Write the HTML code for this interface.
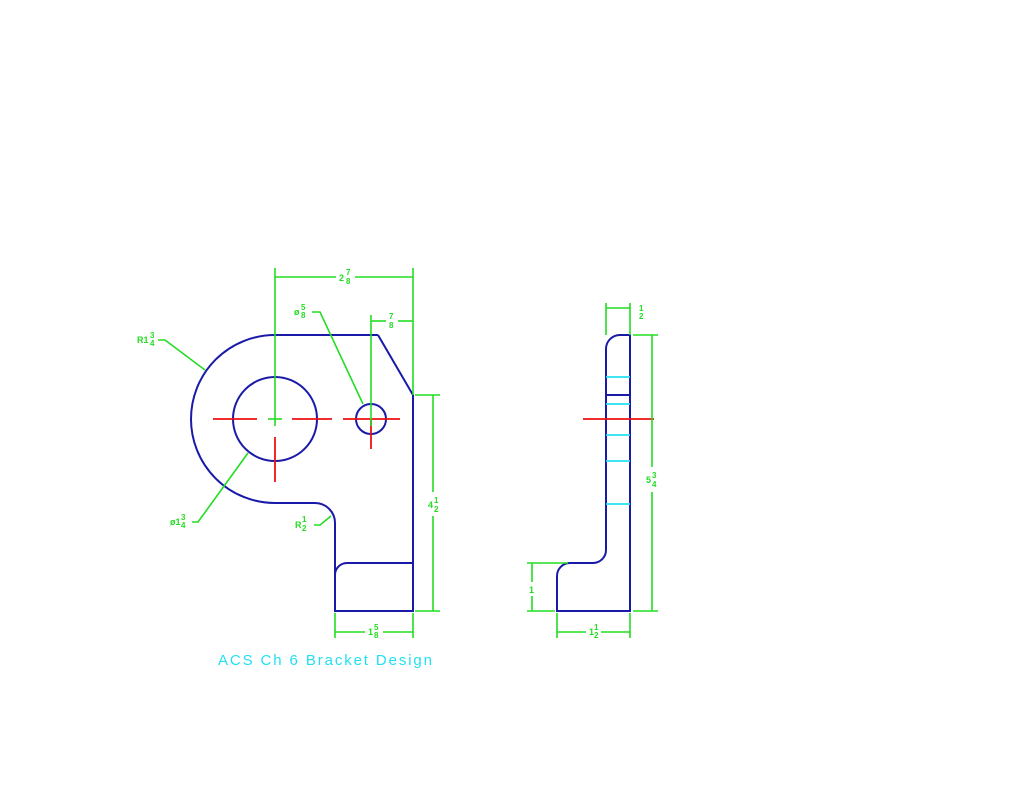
<!DOCTYPE html>
<html><head><meta charset="utf-8"><style>
html,body{margin:0;padding:0;background:#fff;}
svg{display:block}
text{font-family:"Liberation Sans",sans-serif;font-weight:bold;fill:#22dd22}
</style></head><body>
<svg width="1024" height="791" viewBox="0 0 1024 791" xmlns="http://www.w3.org/2000/svg">
<g fill="none" stroke="#1a1aa8" stroke-width="2">
<path d="M378 335 L275 335 A84 84 0 0 0 275 503 L315 503 A20 20 0 0 1 335 523 L335 611 L413 611 L413 395 L378 335"/>
<path d="M413 563 L347 563 A12 12 0 0 0 335 575"/>
<circle cx="275" cy="419" r="42"/>
<circle cx="371" cy="419" r="15"/>
<path d="M630 335 L620 335 A14 14 0 0 0 606 349 L606 550 A13 13 0 0 1 593 563 L570 563 A13 13 0 0 0 557 576 L557 611 L630 611 Z"/>
<line x1="606" y1="395" x2="630" y2="395"/>
</g>
<g stroke="#22e0f0" stroke-width="1.8">
<line x1="606" y1="377" x2="630" y2="377"/>
<line x1="606" y1="404" x2="630" y2="404"/>
<line x1="606" y1="435" x2="630" y2="435"/>
<line x1="606" y1="461" x2="630" y2="461"/>
<line x1="606" y1="504" x2="630" y2="504"/>
</g>
<g stroke="#ee1111" stroke-width="1.8">
<line x1="213" y1="419" x2="257" y2="419"/>
<line x1="292" y1="419" x2="332" y2="419"/>
<line x1="343" y1="419" x2="400" y2="419"/>
<line x1="275" y1="437" x2="275" y2="482"/>
<line x1="371" y1="419" x2="371" y2="449"/>
<line x1="583" y1="419" x2="654" y2="419"/>
</g>
<g stroke="#22dd22" stroke-width="1.6" fill="none">
<line x1="268" y1="419" x2="282" y2="419"/>
<line x1="275" y1="268" x2="275" y2="426"/>
<line x1="413" y1="268" x2="413" y2="395"/>
<line x1="275" y1="277" x2="336" y2="277"/><line x1="355" y1="277" x2="413" y2="277"/>
<line x1="371" y1="315" x2="371" y2="426"/>
<line x1="371" y1="321" x2="386" y2="321"/><line x1="398" y1="321" x2="413" y2="321"/>
<line x1="415" y1="395" x2="440" y2="395"/><line x1="415" y1="611" x2="440" y2="611"/>
<line x1="433" y1="395" x2="433" y2="492"/><line x1="433" y1="516" x2="433" y2="611"/>
<line x1="335" y1="613" x2="335" y2="638"/><line x1="413" y1="613" x2="413" y2="638"/>
<line x1="335" y1="632" x2="365" y2="632"/><line x1="383" y1="632" x2="413" y2="632"/>
<polyline points="158,340 165,340 205,370"/>
<polyline points="312,312 320,312 363,404"/>
<polyline points="192,522 198,522 248,453"/>
<polyline points="314,525 320,525 331,516"/>
<line x1="606" y1="303" x2="606" y2="335"/><line x1="630" y1="303" x2="630" y2="335"/>
<line x1="606" y1="308" x2="630" y2="308"/>
<line x1="633" y1="335" x2="658" y2="335"/><line x1="633" y1="611" x2="658" y2="611"/>
<line x1="652" y1="335" x2="652" y2="467"/><line x1="652" y1="492" x2="652" y2="611"/>
<line x1="527" y1="563" x2="568" y2="563"/><line x1="527" y1="611" x2="555" y2="611"/>
<line x1="532" y1="563" x2="532" y2="582"/><line x1="532" y1="596" x2="532" y2="611"/>
<line x1="557" y1="613" x2="557" y2="638"/><line x1="630" y1="613" x2="630" y2="638"/>
<line x1="557" y1="632" x2="586" y2="632"/><line x1="601" y1="632" x2="630" y2="632"/>
</g>
<g font-size="9">
<text x="339" y="281">2</text><text x="346" y="275" font-size="8">7</text><text x="346" y="284" font-size="8">8</text>
<text x="389" y="319" font-size="8">7</text><text x="389" y="328" font-size="8">8</text>
<text x="294" y="315">ø</text><text x="301" y="310" font-size="8">5</text><text x="301" y="318" font-size="8">8</text>
<text x="137" y="343">R1</text><text x="150" y="338" font-size="8">3</text><text x="150" y="346" font-size="8">4</text>
<text x="170" y="525">ø1</text><text x="181" y="520" font-size="8">3</text><text x="181" y="528" font-size="8">4</text>
<text x="295" y="528">R</text><text x="302" y="522" font-size="8">1</text><text x="302" y="531" font-size="8">2</text>
<text x="428" y="508">4</text><text x="434" y="503" font-size="8">1</text><text x="434" y="512" font-size="8">2</text>
<text x="368" y="635">1</text><text x="374" y="630" font-size="8">5</text><text x="374" y="638" font-size="8">8</text>
<text x="639" y="311" font-size="8">1</text><text x="639" y="319" font-size="8">2</text>
<text x="646" y="483">5</text><text x="652" y="478" font-size="8">3</text><text x="652" y="487" font-size="8">4</text>
<text x="529" y="593">1</text>
<text x="589" y="635">1</text><text x="594" y="630" font-size="8">1</text><text x="594" y="638" font-size="8">2</text>
</g>
<text x="218" y="665" font-size="15" style="fill:#22e0f0;font-weight:normal" textLength="214" lengthAdjust="spacing">ACS Ch 6 Bracket Design</text>
</svg>
</body></html>
